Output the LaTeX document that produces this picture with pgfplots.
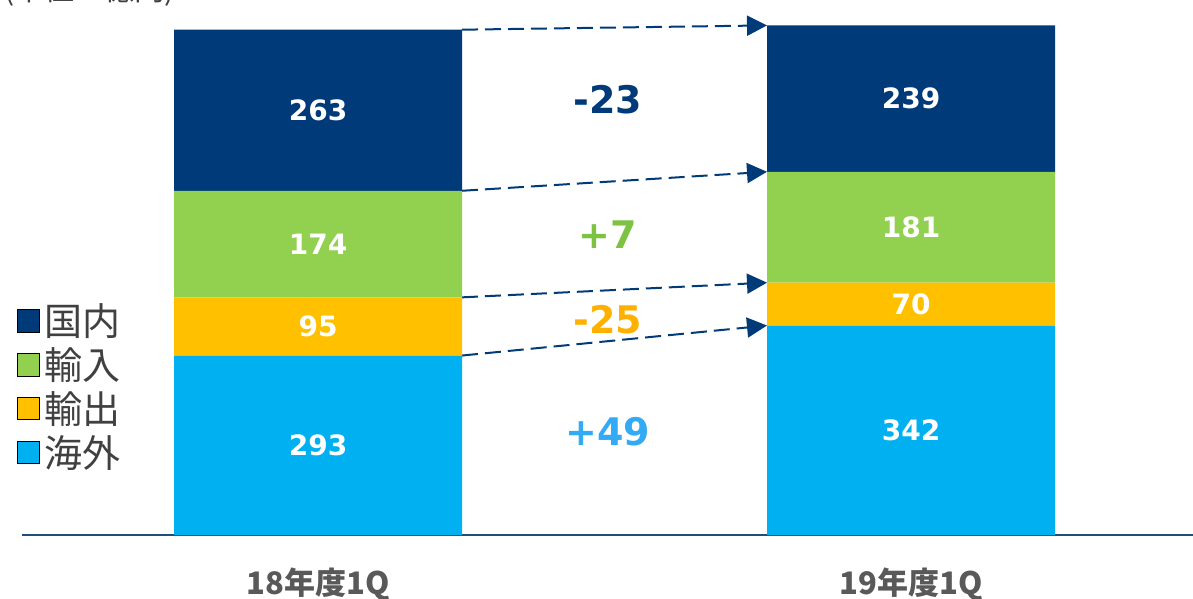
\documentclass[border=0pt]{standalone}
\usepackage{fontspec}
\setmainfont{DejaVu Sans}
\newfontfamily\cjk{Noto Sans CJK JP}
\usepackage{pgfplots}
\usepackage{pgfplotstable}
\pgfplotsset{compat=1.18}
\usetikzlibrary{arrows.meta}
\definecolor{cKoku}{HTML}{003A78}
\definecolor{cYunyu}{HTML}{92D050}
\definecolor{cYushu}{HTML}{FFC000}
\definecolor{cKai}{HTML}{00B0F0}
\definecolor{lKoku}{HTML}{003A78}
\definecolor{lYunyu}{HTML}{7DC242}
\definecolor{lYushu}{HTML}{FFB000}
\definecolor{lKai}{HTML}{33AAF5}
\definecolor{axisblue}{HTML}{1F4E79}
\definecolor{labgray}{HTML}{595959}
\definecolor{leggray}{HTML}{404040}
\pgfplotstableread{
pos kaigai yushutsu yunyu kokunai
318 293 95 174 263
911 342 70 181 239
}\barTable
\pgfplotstableread{
pos ymid val
318 146.5 293
318 340 95
318 474.5 174
318 693.5 263
911 171 342
911 377 70
911 502.5 181
911 712.5 239
}\labelTable
\begin{document}
\begin{tikzpicture}
\useasboundingbox (0,0) rectangle (596.5pt,299.5pt);
\node[anchor=base west, inner sep=0pt, text=leggray, font=\cjk\fontsize{15}{17}\selectfont] at (2pt,299pt) {(単位：億円)};
\begin{axis}[
  at={(11pt,32pt)}, anchor=south west,
  scale only axis, width=585.5pt, height=267.5pt,
  xmin=22, xmax=1193, ymin=0, ymax=873.5, clip=false,
  ybar stacked, bar width=144pt,
  axis y line=none, axis x line*=bottom,
  axis line style={draw=axisblue, line width=1pt},
  xtick={318,911}, xticklabels={18年度1Q,19年度1Q},
  major tick length=0pt,
  xticklabel style={font=\cjk\bfseries\fontsize{15.5}{17}\selectfont, text=labgray, yshift=-13pt},
  legend style={at={(-0.0043,0.441)}, anchor=north west, draw=none, fill=none, inner sep=0pt, font=\cjk\fontsize{19}{21}\selectfont, text=leggray, row sep=0.5pt, cells={anchor=west}},
  reverse legend,
  area legend,
  legend image post style={xscale=0.647, yscale=1.94, draw=none},
]
\addplot[fill=cKai, draw=none] table[x=pos, y=kaigai] {\barTable};
\addlegendentry{海外}
\addplot[fill=cYushu, draw=none] table[x=pos, y=yushutsu] {\barTable};
\addlegendentry{輸出}
\addplot[fill=cYunyu, draw=none] table[x=pos, y=yunyu] {\barTable};
\addlegendentry{輸入}
\addplot[fill=cKoku, draw=none] table[x=pos, y=kokunai] {\barTable};
\addlegendentry{国内}
\draw[cKoku, line width=1pt, dash pattern=on 8pt off 3.5pt, -{Triangle[length=10pt,width=10pt]}] (axis cs:462,825) -- (axis cs:767,832);
\draw[cKoku, line width=1pt, dash pattern=on 8pt off 3.5pt, -{Triangle[length=10pt,width=10pt]}] (axis cs:462,562) -- (axis cs:767,593);
\draw[cKoku, line width=1pt, dash pattern=on 8pt off 3.5pt, -{Triangle[length=10pt,width=10pt]}] (axis cs:462,388) -- (axis cs:767,412);
\draw[cKoku, line width=1pt, dash pattern=on 8pt off 3.5pt, -{Triangle[length=10pt,width=10pt]}] (axis cs:462,293) -- (axis cs:767,342);
\node[font=\bfseries\fontsize{19}{21}\selectfont, text=lKoku] at (axis cs:608,710) {-23};
\node[font=\bfseries\fontsize{19}{21}\selectfont, text=lYunyu] at (axis cs:608,490) {+7};
\node[font=\bfseries\fontsize{19}{21}\selectfont, text=lYushu] at (axis cs:608,351) {-25};
\node[font=\bfseries\fontsize{19}{21}\selectfont, text=lKai] at (axis cs:608,168) {+49};
\end{axis}
\begin{axis}[
  at={(11pt,32pt)}, anchor=south west,
  scale only axis, width=585.5pt, height=267.5pt,
  xmin=22, xmax=1193, ymin=0, ymax=873.5, clip=false, hide axis]
\addplot[draw=none, mark=none, point meta=explicit symbolic,
  nodes near coords,
  every node near coord/.append style={font=\bfseries\fontsize{14}{16}\selectfont, text=white, anchor=center}]
  table[x=pos, y=ymid, meta=val] {\labelTable};
\end{axis}
\end{tikzpicture}
\end{document}
